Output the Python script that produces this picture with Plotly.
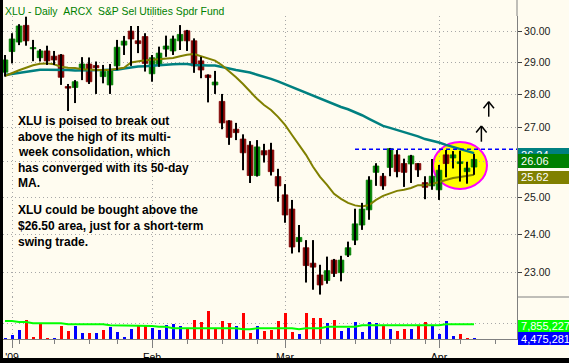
import math
import plotly.graph_objects as go

# ---------------- data ----------------
# trading-day index 0 = Dec 31 2008 ... 67 = Apr 8 2009
opens = [28.69, 29.35, 29.66, 30.21, 29.44, 29.15, 29.37, 29.20, 29.24, 28.24,
         28.21, 28.76, 28.95, 28.90, 28.55, 28.29, 28.89, 29.56, 30.02, 29.70,
         29.84, 28.64, 28.92, 29.43, 29.37, 29.70, 30.03, 29.70, 29.05, 28.60,
         28.29, 27.78, 27.19, 26.94, 26.65, 26.47, 25.60, 26.31, 26.33, 25.57,
         25.06, 24.67, 23.80, 23.64, 23.24, 22.94, 22.80, 23.32, 23.00, 23.45,
         23.84, 24.24, 24.65, 25.69, 25.58, 25.83, 26.19, 25.94, 25.93, 25.94,
         25.40, 25.31, 25.20, 26.19, 26.10, 25.94, 25.71, 25.84]
highs = [29.24, 29.95, 30.25, 30.50, 29.73, 29.43, 29.54, 29.37, 29.27, 28.32,
         28.44, 29.17, 29.16, 29.03, 28.92, 28.95, 29.73, 29.86, 30.19, 30.19,
         29.95, 29.24, 29.51, 29.87, 29.87, 30.22, 30.06, 29.78, 29.18, 28.62,
         28.73, 28.01, 27.21, 27.13, 26.79, 26.59, 26.62, 26.51, 26.54, 25.79,
         25.36, 24.92, 24.24, 23.84, 23.84, 23.20, 23.41, 23.35, 23.43, 23.80,
         24.68, 24.84, 25.58, 25.95, 25.67, 26.39, 26.33, 26.08, 26.19, 25.95,
         25.58, 26.07, 25.90, 26.33, 26.30, 26.31, 25.99, 26.22]
lows = [28.55, 28.97, 29.56, 29.54, 29.04, 29.03, 28.92, 28.92, 28.29, 27.49,
        27.73, 28.44, 28.32, 28.01, 28.34, 28.01, 28.76, 29.24, 28.89, 29.30,
        28.71, 28.39, 28.86, 29.18, 29.24, 29.40, 29.37, 28.67, 28.50, 27.75,
        28.01, 26.94, 26.48, 26.62, 25.75, 25.39, 25.57, 25.97, 25.60, 24.87,
        24.30, 23.49, 23.52, 22.75, 22.57, 22.45, 22.72, 22.89, 22.78, 23.40,
        23.71, 24.11, 24.38, 25.31, 25.20, 25.58, 25.55, 25.28, 25.39, 25.56,
        24.94, 25.20, 24.92, 25.55, 25.80, 25.43, 25.37, 25.62]
closes = [29.08, 29.76, 30.19, 29.70, 29.48, 29.37, 29.05, 29.08, 28.53, 28.19,
          28.39, 28.95, 28.39, 28.83, 28.71, 28.76, 29.49, 29.69, 29.76, 29.61,
          28.97, 29.15, 29.30, 29.53, 29.76, 29.91, 29.70, 28.89, 28.76, 28.52,
          28.38, 27.13, 26.70, 26.84, 26.25, 25.60, 26.42, 26.19, 25.71, 25.31,
          24.51, 23.66, 23.91, 23.18, 23.14, 22.69, 23.05, 22.98, 23.32, 23.64,
          24.27, 24.67, 25.47, 25.87, 25.31, 26.37, 25.71, 25.69, 26.16, 25.76,
          25.27, 25.58, 25.75, 25.94, 26.19, 25.99, 25.81, 26.06]
ma20 = [28.57, 28.67, 28.75, 28.83, 28.91, 28.96, 28.97, 28.94, 28.86, 28.83,
        28.82, 28.78, 28.76, 28.76, 28.76, 28.76, 28.80, 28.83, 29.00, 29.04,
        29.07, 29.09, 29.11, 29.13, 29.14, 29.20, 29.25, 29.27, 29.20, 29.13,
        29.06, 28.91, 28.73, 28.53, 28.32, 28.09, 27.86, 27.67, 27.52, 27.31,
        27.07, 26.77, 26.48, 26.19, 25.85, 25.56, 25.34, 25.09, 24.95, 24.84,
        24.77, 24.74, 24.78, 24.92, 25.03, 25.10, 25.17, 25.20, 25.25, 25.33,
        25.33, 25.36, 25.42, 25.47, 25.53, 25.56, 25.59, 25.62]
ma50 = [28.60, 28.63, 28.68, 28.70, 28.74, 28.77, 28.77, 28.77, 28.77, 28.76,
        28.74, 28.74, 28.74, 28.76, 28.76, 28.77, 28.77, 28.81, 28.85, 28.87,
        28.88, 28.90, 28.91, 28.93, 28.94, 28.95, 28.95, 28.92, 28.90, 28.90,
        28.90, 28.85, 28.79, 28.76, 28.72, 28.68, 28.61, 28.55, 28.48, 28.40,
        28.31, 28.22, 28.13, 28.04, 27.95, 27.86, 27.77, 27.69, 27.61, 27.54,
        27.46, 27.36, 27.25, 27.15, 27.04, 26.98, 26.92, 26.85, 26.80, 26.73,
        26.65, 26.61, 26.55, 26.48, 26.42, 26.36, 26.30, 26.24]
volume = [4550000, 5290000, 6450000, 8920000, 4800000, 7930000, 4550000, 4550000, 7510000, 6210000,
          7510000, 5790000, 5790000, 5790000, 6450000, 7190000, 5960000, 4800000, 6700000, 7760000,
          7760000, 7020000, 6450000, 7760000, 7930000, 7510000, 7020000, 8920000, 8430000, 11140000,
          6700000, 8670000, 8180000, 7510000, 10650000, 5790000, 7510000, 6280000, 6450000, 8670000,
          10650000, 6030000, 5540000, 10650000, 9420000, 9420000, 8180000, 8920000, 6210000, 7020000,
          8500000, 6030000, 8500000, 8250000, 7610000, 6700000, 6280000, 6700000, 6700000, 7610000,
          8500000, 7510000, 5540000, 8670000, 5040000, 5540000, 4480000, 4475281]
vol_ma = [8670000, 8670000, 8430000, 8430000, 8110000, 8110000, 8110000, 8110000, 8110000, 7860000,
          7860000, 7860000, 7860000, 7860000, 7860000, 7610000, 7610000, 7610000, 7610000, 7440000,
          7440000, 7440000, 7270000, 7270000, 6870000, 6870000, 6870000, 6870000, 6870000, 6870000,
          6870000, 6870000, 6870000, 6870000, 6630000, 6630000, 6870000, 6870000, 6870000, 6870000,
          6870000, 6870000, 6630000, 6870000, 6870000, 6870000, 7270000, 7270000, 7270000, 7270000,
          7270000, 7610000, 7610000, 7610000, 7610000, 7610000, 7610000, 7610000, 7610000, 7610000,
          7610000, 7610000, 7610000, 7860000, 7860000, 7860000, 7860000, 7855227]
month_ticks = [1, 21, 40, 62]
month_labels = ["'09", "Feb", "Mar", "Apr"]
week_ticks = [2, 7, 12, 16, 26, 31, 36, 45, 50, 55, 60, 65, 70]
price_ticks = [23, 24, 25, 26, 27, 28, 29, 30]
resistance = 26.35
note1 = ["XLU is poised to break out", "above the high of its multi-",
         "week consolidation, which", "has converged with its 50-day", "MA."]
note2 = ["XLU could be bought above the", "$26.50 area, just for a short-term",
         "swing trade."]
title = "XLU - Daily\u00a0\u00a0ARCX\u00a0\u00a0S&P Sel Utilities Spdr Fund"

# ---------------- geometry ----------------
W, H = 569, 363
ML, MR, MT, MB = 3, 52, 16, 24
PW, PH = W - ML - MR, H - MT - MB
VOL_TOP = 297  # pixel row where the volume pane starts


def px(x):
    return (x - ML) / PW


def py(y):
    return (H - MB - y) / PH


def pyd(y):  # y-domain fraction of the price pane
    return (VOL_TOP - y) / (VOL_TOP - MT)


vdom = (H - MB - VOL_TOP) / PH
idx = list(range(len(closes)))
BG = "#FFFCF0"
FONT = "Liberation Sans, Arial, sans-serif"

fig = go.Figure()

fig.add_trace(go.Scatter(x=idx, y=ma50, mode="lines", line=dict(color="#008080", width=2.5),
                         hoverinfo="skip", yaxis="y"))
fig.add_trace(go.Scatter(x=idx, y=ma20, mode="lines", line=dict(color="#808000", width=2),
                         hoverinfo="skip", yaxis="y"))

wx, wy = [], []
for i in idx:
    wx += [i, i, None]
    wy += [lows[i], highs[i], None]
fig.add_trace(go.Scatter(x=wx, y=wy, mode="lines", line=dict(color="#000000", width=2),
                         hoverinfo="skip", yaxis="y"))

up = [i for i in idx if closes[i] >= opens[i]]
dn = [i for i in idx if closes[i] < opens[i]]
for sel, col in ((up, "#008000"), (dn, "#800000")):
    fig.add_trace(go.Bar(x=sel, y=[abs(closes[i] - opens[i]) for i in sel],
                         base=[min(opens[i], closes[i]) for i in sel],
                         width=0.8, marker=dict(color=col, line=dict(color=col, width=0.8)),
                         hoverinfo="skip", yaxis="y"))

fig.add_trace(go.Scatter(x=[50, 73.2], y=[resistance, resistance], mode="lines",
                         line=dict(color="#0000FF", width=1.5, dash="4px,3px"),
                         hoverinfo="skip", yaxis="y"))

vcol = ["#0000FF" if (i == 0 or closes[i] >= closes[i - 1]) else "#FF0000" for i in idx]
fig.add_trace(go.Bar(x=idx, y=volume, width=0.43, marker=dict(color=vcol, line=dict(width=0)),
                     hoverinfo="skip", yaxis="y2"))
fig.add_trace(go.Scatter(x=idx, y=vol_ma, mode="lines", line=dict(color="#00FF00", width=2),
                         hoverinfo="skip", yaxis="y2"))

shapes = []
# highlight ellipse
shapes.append(dict(type="circle", xref="x", yref="y domain", x0=61.15, x1=68.85,
                   y0=pyd(189), y1=pyd(142), fillcolor="#FFFF00",
                   line=dict(color="#FF00FF", width=2), layer="below"))
# up arrows
for xc, tip, tail in ((68.05, 126, 141.7), (69.1, 101.7, 116.7)):
    shapes.append(dict(type="line", xref="x", yref="y domain", x0=xc, x1=xc,
                       y0=pyd(tail), y1=pyd(tip), line=dict(color="#000000", width=1.5)))
    for s in (-1, 1):
        shapes.append(dict(type="line", xref="x", yref="y domain", x0=xc, x1=xc + s * 0.75,
                           y0=pyd(tip), y1=pyd(tip + 6.5), line=dict(color="#000000", width=1.5)))
# frame pieces
shapes.append(dict(type="rect", xref="paper", yref="paper", x0=px(0), x1=px(ML), y0=py(H), y1=py(0),
                   fillcolor="#000000", line=dict(width=0), layer="above"))
shapes.append(dict(type="rect", xref="paper", yref="paper", x0=px(0), x1=px(W), y0=py(H), y1=py(358),
                   fillcolor="#000000", line=dict(width=0), layer="above"))
shapes.append(dict(type="line", xref="paper", yref="paper", x0=1, x1=1, y0=1, y1=py(0),
                   line=dict(color="#808080", width=1)))
shapes.append(dict(type="line", xref="paper", yref="paper", x0=1, x1=px(W), y0=py(VOL_TOP), y1=py(VOL_TOP),
                   line=dict(color="#808080", width=1)))

# right-hand value boxes: (top, bottom, colour, text) -- drawn in order so later ones cover earlier
boxes = [
    (148.3, 163.0, "#008080", f"{ma50[-1]:.2f}"),
    (154.0, 168.3, "#008000", f"{closes[-1]:.2f}"),
    (170.7, 183.3, "#808000", f"{ma20[-1]:.2f}"),
    (320.0, 331.7, "#00FF00", f"{vol_ma[-1]:,}"),
    (331.7, 345.0, "#0000FF", f"{volume[-1]:,}"),
]
annotations = []
for top, bot, col, txt in boxes:
    annotations.append(dict(xref="paper", yref="paper", x=px(517.5), y=py(top), xanchor="left",
                            yanchor="top", text="\u00a0" + txt, showarrow=False, borderpad=0,
                            borderwidth=0, bgcolor=col, width=52, height=bot - top,
                            align="left", valign="middle",
                            font=dict(family=FONT, size=11, color="#FFFFFF")))

annotations.append(dict(xref="paper", yref="paper", x=px(3.5), y=py(11), xanchor="left",
                        yanchor="middle", text=title, showarrow=False, borderpad=0,
                        font=dict(family=FONT, size=10.4, color="#008000")))
ys1 = [121, 136.5, 152, 167.5, 183]
ys2 = [210, 226, 242]
for lines, ys in ((note1, ys1), (note2, ys2)):
    for t, yv in zip(lines, ys):
        annotations.append(dict(xref="paper", yref="paper", x=px(17), y=py(yv), xanchor="left",
                                yanchor="middle", text=f"<b>{t}</b>", showarrow=False, borderpad=0,
                                font=dict(family=FONT, size=12, color="#000000")))

fig.update_layout(
    width=W, height=H, margin=dict(l=ML, r=MR, t=MT, b=MB, autoexpand=False),
    paper_bgcolor=BG, plot_bgcolor=BG, showlegend=False, barmode="overlay", bargap=0,
    xaxis=dict(anchor="y2", range=[-0.29, 73.14], tickmode="array", tickvals=month_ticks,
               ticktext=month_labels, ticks="outside", ticklen=8, tickwidth=1, tickcolor="#808080",
               showline=True, linecolor="#808080", linewidth=1, showgrid=True, gridcolor="#A8A8A8",
               griddash="1px,3px", gridwidth=1, zeroline=False, automargin=False,
               tickfont=dict(family=FONT, size=10.5, color="#000000"),
               minor=dict(tickmode="array", tickvals=week_ticks, ticks="outside", ticklen=4,
                          tickcolor="#808080", showgrid=False)),
    yaxis=dict(domain=[vdom, 1], type="log", side="right", anchor="x", automargin=False,
               range=[math.log10(22.39), math.log10(30.524)], tickmode="array",
               tickvals=price_ticks, ticktext=[f"{v:.2f}" for v in price_ticks], ticks="outside",
               ticklen=4, tickcolor="#404040", showline=True, linecolor="#808080", showgrid=True,
               gridcolor="#A8A8A8", griddash="1px,3px", zeroline=False,
               tickfont=dict(family=FONT, size=10.5, color="#202020")),
    yaxis2=dict(domain=[0, vdom], side="right", anchor="x", range=[4.23e6, 14.6e6], automargin=False,
                tickmode="array", tickvals=[8e6], showticklabels=False, ticks="outside", ticklen=4,
                tickcolor="#404040", showline=True, linecolor="#808080", showgrid=True,
                gridcolor="#A8A8A8", griddash="1px,3px", zeroline=False),
    shapes=shapes, annotations=annotations,
)

fig.write_html("out.html", config={"displayModeBar": False, "staticPlot": True},
               post_script="document.body.style.margin='0px';document.body.style.background='#000';")
